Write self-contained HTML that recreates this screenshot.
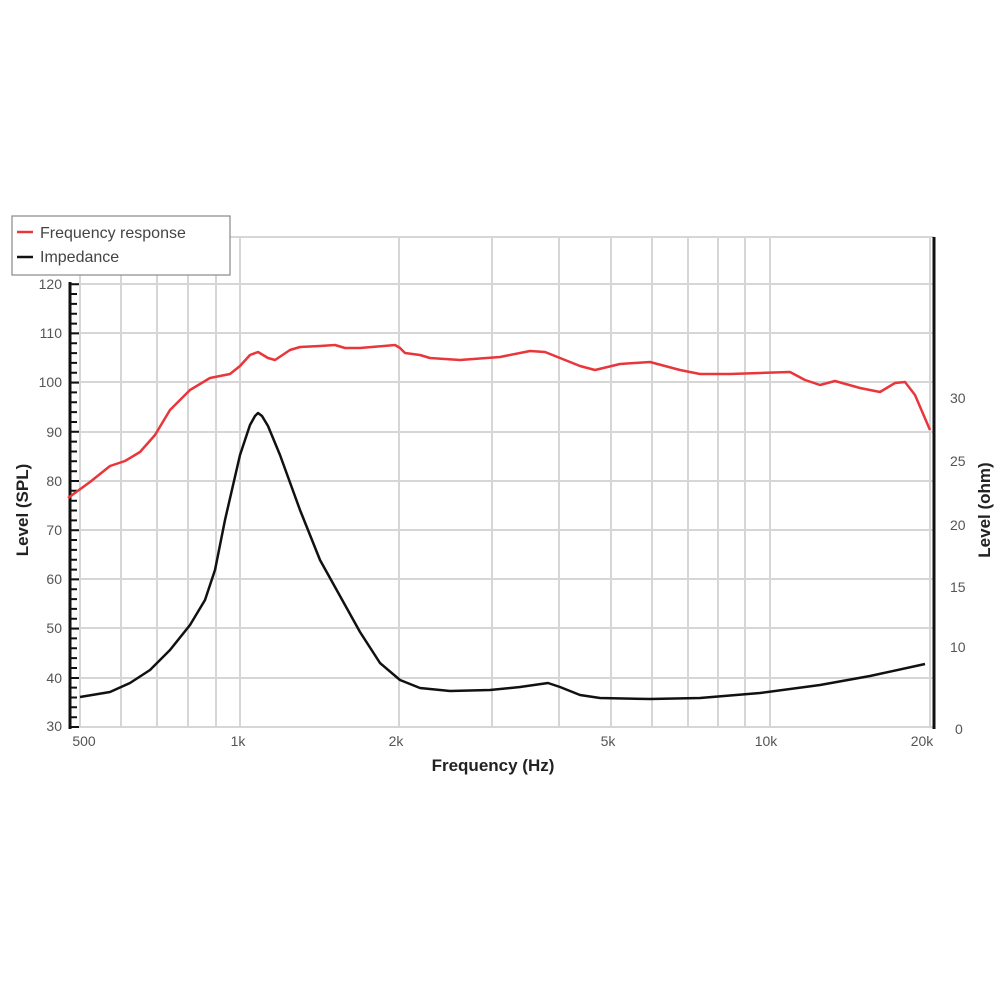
<!DOCTYPE html>
<html><head><style>body{margin:0;background:#fff}</style></head><body>
<svg width="1000" height="1000" xmlns="http://www.w3.org/2000/svg" font-family="Liberation Sans, sans-serif">
<g stroke="#d6d6d6" stroke-width="2">
<line x1="70" y1="237" x2="934" y2="237"/>
<line x1="70" y1="284" x2="934" y2="284"/><line x1="70" y1="333" x2="934" y2="333"/><line x1="70" y1="382" x2="934" y2="382"/><line x1="70" y1="432" x2="934" y2="432"/><line x1="70" y1="481" x2="934" y2="481"/><line x1="70" y1="530" x2="934" y2="530"/><line x1="70" y1="579" x2="934" y2="579"/><line x1="70" y1="628" x2="934" y2="628"/><line x1="70" y1="678" x2="934" y2="678"/><line x1="70" y1="727" x2="934" y2="727"/>
<line x1="80" y1="237" x2="80" y2="727"/><line x1="121" y1="237" x2="121" y2="727"/><line x1="157" y1="237" x2="157" y2="727"/><line x1="188" y1="237" x2="188" y2="727"/><line x1="216" y1="237" x2="216" y2="727"/><line x1="240" y1="237" x2="240" y2="727"/><line x1="399" y1="237" x2="399" y2="727"/><line x1="492" y1="237" x2="492" y2="727"/><line x1="559" y1="237" x2="559" y2="727"/><line x1="611" y1="237" x2="611" y2="727"/><line x1="652" y1="237" x2="652" y2="727"/><line x1="688" y1="237" x2="688" y2="727"/><line x1="718" y1="237" x2="718" y2="727"/><line x1="745" y1="237" x2="745" y2="727"/><line x1="770" y1="237" x2="770" y2="727"/><line x1="930" y1="237" x2="930" y2="727"/>
</g>
<line x1="70" y1="282" x2="70" y2="729" stroke="#111" stroke-width="3"/>
<path stroke="#111" stroke-width="2" d="M70 727H79M70 717.2H77M70 707.3H77M70 697.5H77M70 687.6H77M70 678H79M70 668H77M70 658.1H77M70 648.3H77M70 638.4H77M70 628.6H79M70 618.8H77M70 608.9H77M70 599.1H77M70 589.2H77M70 579.4H79M70 569.6H77M70 559.7H77M70 549.9H77M70 540H77M70 530.2H79M70 520.4H77M70 510.5H77M70 500.7H77M70 490.8H77M70 481H79M70 471.2H77M70 461.3H77M70 451.5H77M70 441.6H77M70 431.8H79M70 422H77M70 412.1H77M70 402.3H77M70 392.4H77M70 382.6H79M70 372.8H77M70 362.9H77M70 353.1H77M70 343.2H77M70 333.4H79M70 323.6H77M70 313.7H77M70 303.9H77M70 294H77M70 284.2H79"/>
<line x1="934" y1="237" x2="934" y2="729" stroke="#111" stroke-width="3"/>
<g font-size="14" fill="#555" text-anchor="end">
<text x="62" y="289">120</text><text x="62" y="338">110</text><text x="62" y="387">100</text><text x="62" y="437">90</text><text x="62" y="486">80</text><text x="62" y="535">70</text><text x="62" y="584">60</text><text x="62" y="633">50</text><text x="62" y="683">40</text><text x="62" y="731">30</text>
</g>
<g font-size="14" fill="#555">
<text x="950" y="403">30</text><text x="950" y="466">25</text><text x="950" y="530">20</text><text x="950" y="592">15</text><text x="950" y="652">10</text><text x="955" y="734">0</text>
</g>
<g font-size="14" fill="#555" text-anchor="middle">
<text x="84" y="746">500</text><text x="238" y="746">1k</text><text x="396" y="746">2k</text><text x="608" y="746">5k</text><text x="766" y="746">10k</text><text x="922" y="746">20k</text>
</g>
<text x="493" y="771" font-size="17" font-weight="bold" fill="#222" text-anchor="middle">Frequency (Hz)</text>
<text transform="translate(28,510) rotate(-90)" font-size="17" font-weight="bold" fill="#222" text-anchor="middle">Level (SPL)</text>
<text transform="translate(990,510) rotate(-90)" font-size="17" font-weight="bold" fill="#222" text-anchor="middle">Level (ohm)</text>
<polyline fill="none" stroke="#e8363b" stroke-width="2.5" stroke-linejoin="round" points="68,498 90,482 110,466 125,461 140,452 155,435 170,410 190,390 210,378 230,374 240,366 250,355 258,352 268,358 275,360 290,350 300,347 320,346 335,345 345,348 360,348 395,345 400,348 405,353 420,355 430,358 460,360 500,357 530,351 545,352 560,358 580,366 595,370 620,364 650,362 680,370 700,374 730,374 760,373 790,372 805,380 820,385 835,381 860,388 880,392 895,383 905,382 915,395 930,430"/>
<polyline fill="none" stroke="#111" stroke-width="2.5" stroke-linejoin="round" points="80,697 110,692 130,683 150,670 170,650 190,625 205,600 215,570 225,520 240,455 250,425 255,416 258,413 262,416 268,426 280,455 300,510 320,560 340,596 360,632 380,663 400,680 420,688 450,691 490,690 520,687 548,683 560,687 580,695 600,698 650,699 700,698 760,693 820,685 870,676 925,664"/>
<rect x="12" y="216" width="218" height="59" fill="#fff" stroke="#888" stroke-width="1.2"/>
<line x1="17" y1="232" x2="33" y2="232" stroke="#e8363b" stroke-width="2.5"/>
<line x1="17" y1="257" x2="33" y2="257" stroke="#111" stroke-width="2.5"/>
<text x="40" y="238" font-size="16" fill="#444">Frequency response</text>
<text x="40" y="262" font-size="16" fill="#444">Impedance</text>
</svg>
</body></html>
